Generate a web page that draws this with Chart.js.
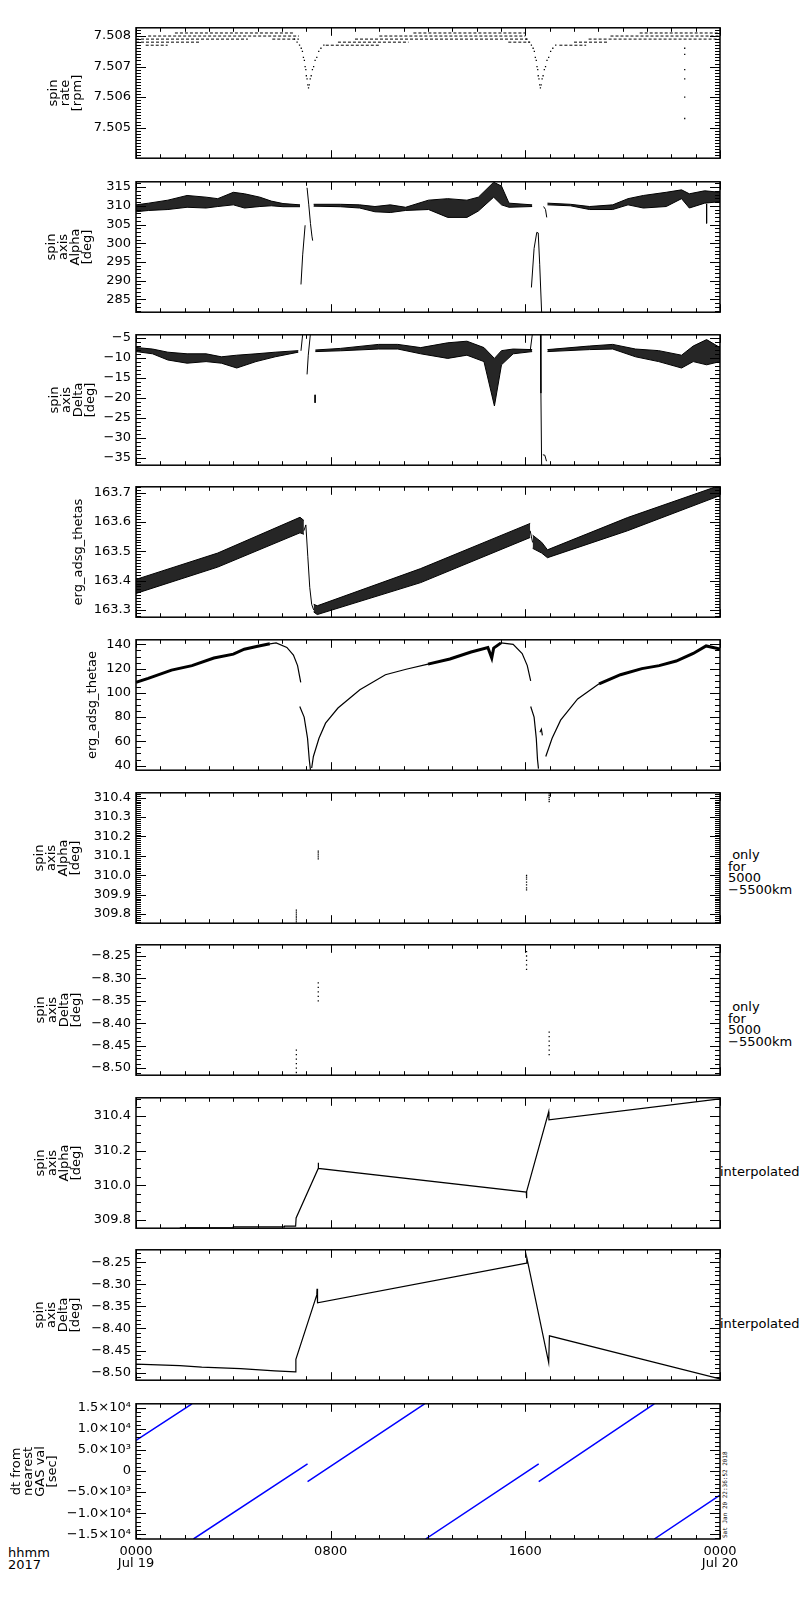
<!DOCTYPE html>
<html>
<head>
<meta charset="utf-8">
<script src="https://cdn.jsdelivr.net/npm/chart.js@4.4.1/dist/chart.umd.min.js"></script>
<style>
  body { margin: 0; background: #fff; }
  #page { position: relative; width: 800px; height: 1600px; background: #fff; overflow: hidden; }
  canvas { position: absolute; left: 0; }
  .note { position: absolute; font: 13px "DejaVu Sans", sans-serif; color: #000; white-space: pre; }
  .stamp { position: absolute; font: 6px "DejaVu Sans Mono", monospace; line-height: 6px; color: #000;
           white-space: pre; transform-origin: 0 0; transform: rotate(-90deg); }
</style>
</head>
<body>
<div id="page">
  <div class="note" style="left:728px;top:849px;line-height:11.5px"> only
for
5000
−5500km</div>
  <div class="note" style="left:728px;top:1001px;line-height:11.5px"> only
for
5000
−5500km</div>
  <div class="note" style="left:720px;top:1166px;line-height:12px">interpolated</div>
  <div class="note" style="left:720px;top:1318px;line-height:12px">interpolated</div>
  <div class="note" style="left:8px;top:1547px;line-height:12px">hhmm
2017</div>
  <div class="stamp" style="left:722px;top:1538px">Sat Jan 20 22:36:52 2018</div>
</div>
<script>
// time axis, hours from 0000 Jul 19
const xTickHours = [0, 8, 16, 24];
const xTickTop = ['0000', '0800', '1600', '0000'];
const xTickBottom = ['Jul 19', '', '', 'Jul 20'];

// panel 1: spin rate
const p1Ticks = [7.505, 7.506, 7.507, 7.508];
const p1Labels = ['7.505', '7.506', '7.507', '7.508'];
const p1LevelVal = [7.5081, 7.5081, 7.5081, 7.5080, 7.5080, 7.5080, 7.5079, 7.5079, 7.5079, 7.5079, 7.5078, 7.5078, 7.5078, 7.5078, 7.5077, 7.5077, 7.5077];
const p1LevelFrom = [1.6, 11.4, 20.7, 0.5, 10.0, 19.5, 0.0, 5.6, 9.0, 18.6, 0.0, 8.3, 15.3, 18.0, 0.4, 7.8, 17.4];
const p1LevelTo = [6.5, 16.0, 24.0, 6.7, 16.0, 24.0, 4.6, 6.7, 16.1, 24.0, 2.6, 11.2, 16.2, 19.4, 1.3, 10.0, 18.5];
const p1DipHours = [6.51, 6.62, 6.72, 6.79, 6.84, 6.88, 6.92, 6.95, 6.98, 7.00, 7.03, 7.06, 7.09, 7.12, 7.16, 7.20, 7.25, 7.30, 7.36, 7.43, 7.51, 7.60, 7.72,
                    16.04, 16.15, 16.25, 16.32, 16.37, 16.41, 16.45, 16.48, 16.51, 16.53, 16.56, 16.59, 16.62, 16.65, 16.69, 16.73, 16.78, 16.83, 16.89, 16.96, 17.04, 17.13, 17.25,
                    22.55, 22.55, 22.55, 22.55, 22.55, 22.55];
const p1DipVals = [7.5079, 7.5078, 7.5077, 7.5076, 7.5075, 7.5073, 7.5072, 7.5070, 7.5069, 7.5067, 7.5066, 7.5064, 7.5063, 7.5064, 7.5066, 7.5067, 7.5069, 7.5070, 7.5072, 7.5073, 7.5075, 7.5076, 7.5077,
                   7.5079, 7.5078, 7.5077, 7.5076, 7.5075, 7.5073, 7.5072, 7.5070, 7.5069, 7.5067, 7.5066, 7.5064, 7.5063, 7.5064, 7.5066, 7.5067, 7.5069, 7.5070, 7.5072, 7.5073, 7.5075, 7.5076, 7.5077,
                   7.5076, 7.5074, 7.5069, 7.5066, 7.5060, 7.5053];

// panel 2: spin axis alpha
const p2Ticks = [285, 290, 295, 300, 305, 310, 315];
const p2Labels = ['285', '290', '295', '300', '305', '310', '315'];
const p2aHours = [0, 0.52, 1.31, 2.10, 2.88, 3.36, 4.00, 4.46, 5.09, 5.56, 6.04, 6.74];
const p2aHigh = [310.25, 310.7, 311.5, 312.75, 312.3, 311.9, 313.6, 313.2, 312.3, 311.25, 310.6, 310.25];
const p2aLow = [308.4, 308.75, 309.0, 309.6, 309.4, 309.8, 310.25, 309.4, 309.8, 310.0, 309.75, 309.75];
const p2bHours = [7.30, 8.40, 9.19, 9.82, 10.45, 11.08, 12.02, 12.81, 13.60, 14.07, 14.70, 15.02, 15.33, 16.28];
const p2bHigh = [310.4, 310.4, 310.25, 309.8, 310.25, 309.6, 311.5, 311.9, 311.5, 312.3, 316.3, 315.25, 310.7, 310.25];
const p2bLow = [309.9, 309.75, 309.4, 308.4, 308.2, 308.75, 309.0, 306.9, 306.9, 308.6, 312.3, 310.25, 309.6, 309.8];
const p2cHours = [16.91, 17.85, 18.64, 19.59, 20.22, 20.85, 21.79, 22.42, 22.74, 23.37, 24.0];
const p2cHigh = [310.7, 310.4, 309.8, 310.25, 311.9, 312.75, 313.6, 314.25, 313.2, 314.0, 313.6];
const p2cLow = [310.25, 310.0, 309.0, 309.0, 310.25, 309.4, 309.8, 311.9, 309.4, 310.7, 311.1];
const p2SpikeHours = [6.78, 6.85, 6.95, null, 7.03, 7.10, 7.17, 7.23, 7.26, null, 16.25, 16.36, 16.47, 16.53, 16.59, 16.67, null, 16.75, 16.83, 16.88, null, 23.45, 23.45];
const p2SpikeVals = [289.0, 296.9, 304.8, null, 314.8, 310.25, 305.25, 301.9, 300.7, null, 288.2, 298.6, 302.9, 302.75, 294.4, 281.5, null, 309.8, 309.0, 306.9, null, 310.5, 305.3];

// panel 3: spin axis delta
const p3Ticks = [-35, -30, -25, -20, -15, -10, -5];
const p3Labels = ['−35', '−30', '−25', '−20', '−15', '−10', '−5'];
const p3aHours = [0, 0.68, 1.31, 2.10, 2.88, 3.51, 4.14, 4.93, 5.72, 6.67];
const p3aHigh = [-7.37, -7.76, -8.55, -8.95, -8.95, -9.7, -9.3, -8.95, -8.55, -8.16];
const p3aLow = [-8.39, -8.95, -10.5, -11.3, -10.9, -11.3, -12.5, -10.9, -9.7, -8.55];
const p3bHours = [7.37, 8.40, 9.97, 10.76, 11.70, 12.81, 13.60, 14.30, 14.73, 15.02, 15.50, 16.28];
const p3bHigh = [-8.0, -7.6, -6.6, -6.6, -7.4, -6.2, -5.8, -7.4, -10.1, -8.16, -7.76, -7.9];
const p3bLow = [-8.4, -8.2, -7.76, -7.76, -8.95, -10.1, -9.3, -10.9, -22.0, -11.7, -8.95, -8.4];
const p3cHours = [16.91, 18.64, 19.59, 20.53, 21.48, 22.42, 22.90, 23.45, 24.0];
const p3cHigh = [-7.9, -7.0, -6.6, -7.76, -8.16, -9.3, -7.0, -5.4, -7.4];
const p3cLow = [-8.4, -7.9, -7.76, -9.7, -10.9, -12.5, -10.9, -11.7, -10.9];
const p3SpikeHours = [6.78, 6.86, null, 7.17, 7.08, 7.03, null, 7.36, 7.36, null, 16.2, 16.3, null, 16.62, 16.64, 16.67, null, 16.72, 16.8, 16.87];
const p3SpikeVals = [-8.2, -3.5, null, -3.8, -9.3, -14.1, null, -19.2, -21.2, null, -8.2, -3.5, null, -3.5, -18.8, -37.5, null, -34.2, -34.3, -35.8];

// panel 4: erg_adsg_thetas
const p4Ticks = [163.3, 163.4, 163.5, 163.6, 163.7];
const p4Labels = ['163.3', '163.4', '163.5', '163.6', '163.7'];
const p4aHours = [0, 3.36, 6.74, 6.90];
const p4aHigh = [163.404, 163.494, 163.616, 163.605];
const p4aLow = [163.356, 163.446, 163.563, 163.558];
const p4bHours = [7.30, 7.45, 11.7, 16.20];
const p4bHigh = [163.319, 163.314, 163.441, 163.595];
const p4bLow = [163.293, 163.284, 163.393, 163.547];
const p4cHours = [16.30, 16.67, 16.91, 20.2, 24.0];
const p4cHigh = [163.555, 163.531, 163.505, 163.615, 163.725];
const p4cLow = [163.51, 163.494, 163.478, 163.57, 163.69];
const p4DropHours = [6.90, 6.98, 7.06, 7.14, 7.22, 7.30, null, 16.20, 16.26, 16.30];
const p4DropVals = [163.57, 163.59, 163.483, 163.377, 163.319, 163.30, null, 163.57, 163.545, 163.53];

// panel 5: erg_adsg_thetae
const p5Ticks = [40, 60, 80, 100, 120, 140];
const p5Labels = ['40', '60', '80', '100', '120', '140'];
const p5NoisyHours = [0, 0.5, 1.46, 2.3, 3.2, 4.0, 4.45, 5.0, 5.5, null, 12.0, 12.9, 13.77, 14.46, 14.62, 14.7, 15.0, null, 19.03, 19.91, 20.79, 21.5, 22.2, 22.9, 23.43, 24.0];
const p5NoisyVals = [108.75, 112, 118.75, 122.5, 128.75, 132, 136, 138.5, 140.5, null, 123.75, 128, 133.75, 137.5, 128.75, 137, 141.25, null, 107.5, 115, 120, 122.5, 126.25, 132.5, 138.75, 136.25];
const p5SmoothHours = [5.5, 5.76, 6.2, 6.47, 6.64, 6.77, null, 6.73, 6.91, 7.05, 7.12, 7.17, null, 7.22, 7.29, 7.52, 7.79, 8.3, 9.2, 10.25, 11.1, 12.0, null,
                       15.0, 15.5, 15.87, 16.08, 16.22, null, 16.22, 16.36, 16.45, 16.5, 16.54, null, 16.6, 16.66, 16.7, null, 16.84, 17.1, 17.45, 18.15, 19.03];
const p5SmoothVals = [140.5, 141.2, 137.5, 131.25, 122.5, 108.75, null, 88.75, 80, 62.5, 45, 36.25, null, 38, 47.5, 62.5, 75, 87.5, 102.5, 115, 119.5, 123.75, null,
                      141.25, 140, 132.5, 122.5, 110, null, 88.75, 80, 62.5, 45, 37.5, null, 67.5, 70, 65, null, 47.5, 62.5, 77.5, 95, 107.5];

// panel 6: alpha, only for 5000-5500km
const p6Ticks = [309.8, 309.9, 310.0, 310.1, 310.2, 310.3, 310.4];
const p6Labels = ['309.8', '309.9', '310.0', '310.1', '310.2', '310.3', '310.4'];
const p6Hours = [6.59, 6.59, 6.59, 6.59, 6.59, 6.59, 6.59, 7.49, 7.49, 7.49, 7.49, 7.49,
                 16.05, 16.05, 16.05, 16.05, 16.05, 16.05, 16.05, 16.98, 16.98, 16.98, 16.98, 16.98];
const p6Vals = [309.82, 309.81, 309.80, 309.79, 309.78, 309.77, 309.76, 310.125, 310.115, 310.105, 310.095, 310.085,
                310.0, 309.99, 309.98, 309.965, 309.95, 309.935, 309.925, 310.42, 310.41, 310.40, 310.39, 310.38];

// panel 7: delta, only for 5000-5500km
const p7Ticks = [-8.50, -8.45, -8.40, -8.35, -8.30, -8.25];
const p7Labels = ['−8.50', '−8.45', '−8.40', '−8.35', '−8.30', '−8.25'];
const p7Hours = [6.59, 6.59, 6.59, 6.59, 6.59, 6.59, 7.49, 7.49, 7.49, 7.49, 7.49,
                 16.05, 16.05, 16.05, 16.05, 16.05, 16.98, 16.98, 16.98, 16.98, 16.98, 16.98];
const p7Vals = [-8.46, -8.47, -8.48, -8.49, -8.50, -8.51, -8.31, -8.32, -8.33, -8.34, -8.35,
                -8.24, -8.25, -8.26, -8.27, -8.28, -8.42, -8.43, -8.44, -8.45, -8.46, -8.47];

// panel 8: alpha, interpolated
const p8Ticks = [309.8, 310.0, 310.2, 310.4];
const p8Labels = ['309.8', '310.0', '310.2', '310.4'];
const p8Hours = [1.8, 4.0, 4.0, 6.1, 6.1, 6.56, 6.58, 7.49, 7.49, 7.50, 16.04, 16.05, 16.06, 16.96, 16.97, 24.0];
const p8Vals = [309.7536, 309.7536, 309.759, 309.759, 309.7625, 309.7625, 309.81, 310.097, 310.13, 310.097, 309.96, 309.925, 309.965, 310.425, 310.378, 310.50];

// panel 9: delta, interpolated
const p9Ticks = [-8.50, -8.45, -8.40, -8.35, -8.30, -8.25];
const p9Labels = ['−8.50', '−8.45', '−8.40', '−8.35', '−8.30', '−8.25'];
const p9Hours = [0, 1.8, 2.7, 4.3, 5.7, 6.56, 6.57, 7.43, 7.44, 7.46, 16.05, 16.06, 16.96, 16.99, 24.0];
const p9Vals = [-8.4806, -8.484, -8.4875, -8.491, -8.4958, -8.498, -8.47, -8.324, -8.31, -8.342, -8.252, -8.2396, -8.477, -8.4167, -8.514];

// panel 10: dt from nearest GAS val
const p10Ticks = [-15000, -10000, -5000, 0, 5000, 10000, 15000];
const p10Labels = ['−1.5×10⁴', '−1.0×10⁴', '−5.0×10³', '0', '5.0×10³', '1.0×10⁴', '1.5×10⁴'];
const p10Hours = [0, 2.30, null, 2.36, 7.05, null, 7.05, 11.86, null, 11.90, 16.55, null, 16.55, 21.30, null, 21.30, 24.0];
const p10Secs = [7300, 15990, null, -16150, 1700, null, -2500, 15990, null, -16150, 1700, null, -2500, 15990, null, -16150, -5700];

const panelTops = [23, 177, 330, 482, 635, 788, 940, 1093, 1245, 1399];
const PANEL_H = 140;
const PAD = 8;
const X_LABEL_H = 48;

Chart.defaults.font.family = "'DejaVu Sans', sans-serif";
Chart.defaults.font.size = 13;
Chart.defaults.color = '#000';

const pts = (xs, ys) => xs.map((x, i) => ({ x: x, y: ys[i] }));

function lineSet(xs, ys, extra) {
  return Object.assign({ data: pts(xs, ys), borderColor: '#000', borderWidth: 1, pointRadius: 0, fill: false, tension: 0 }, extra || {});
}
function dotSet(xs, ys) {
  return { data: pts(xs, ys), showLine: false, pointRadius: 0.9, pointStyle: 'rect',
           pointBackgroundColor: '#000', pointBorderWidth: 0, borderColor: '#000' };
}
function bandSets(xs, hi, lo) {
  return [
    lineSet(xs, hi, { borderWidth: 1 }),
    lineSet(xs, lo, { borderWidth: 1, fill: '-1', backgroundColor: 'rgba(0,0,0,0.85)' })
  ];
}

// box with inward ticks on all four sides
const boxTicks = {
  id: 'boxTicks',
  afterDatasetsDraw(chart, args, opts) {
    const { ctx, chartArea: a } = chart;
    const xs = chart.scales.x, ys = chart.scales.y;
    const snap = p => Math.round(p) + 0.5;
    ctx.save();
    ctx.strokeStyle = '#000';
    ctx.lineWidth = 1;
    ctx.beginPath();
    const tickY = (v, len) => {
      const p = snap(ys.getPixelForValue(v));
      ctx.moveTo(a.left, p); ctx.lineTo(a.left + len, p);
      ctx.moveTo(a.right, p); ctx.lineTo(a.right - len, p);
    };
    const tickX = (v, len) => {
      const p = snap(xs.getPixelForValue(v));
      ctx.moveTo(p, a.bottom); ctx.lineTo(p, a.bottom - len);
      ctx.moveTo(p, a.top); ctx.lineTo(p, a.top + len);
    };
    const k0 = Math.ceil(ys.min / opts.yMinor - 1e-6), k1 = Math.floor(ys.max / opts.yMinor + 1e-6);
    for (let k = k0; k <= k1; k++) tickY(k * opts.yMinor, 5);
    opts.yTicks.forEach(v => tickY(v, 10));
    for (let h = 0; h <= 24; h++) tickX(h, 4);
    xTickHours.forEach(h => tickX(h, 8));
    ctx.stroke();
    ctx.lineWidth = 1.5;
    ctx.strokeRect(a.left, a.top, a.right - a.left, a.bottom - a.top);
    ctx.restore();
  }
};

const panels = [
  { min: 7.504, max: 7.50827, ticks: p1Ticks, labels: p1Labels, minor: 0.0001, title: ['spin', 'rate', '[rpm]'], titlePad: 48,
    datasets: p1LevelVal.map((v, i) => lineSet([p1LevelFrom[i], p1LevelTo[i]], [v, v], { borderDash: [3, 2] }))
      .concat([dotSet(p1DipHours, p1DipVals)]) },
  { min: 281.6, max: 316.4, ticks: p2Ticks, labels: p2Labels, minor: 1, title: ['spin', 'axis', 'Alpha', '[deg]'], titlePad: 46,
    datasets: [].concat(bandSets(p2aHours, p2aHigh, p2aLow), bandSets(p2bHours, p2bHigh, p2bLow), bandSets(p2cHours, p2cHigh, p2cLow),
      [lineSet(p2SpikeHours, p2SpikeVals)]) },
  { min: -36.8, max: -4.2, ticks: p3Ticks, labels: p3Labels, minor: 1, title: ['spin', 'axis', 'Delta', '[deg]'], titlePad: 49,
    datasets: [].concat(bandSets(p3aHours, p3aHigh, p3aLow), bandSets(p3bHours, p3bHigh, p3bLow), bandSets(p3cHours, p3cHigh, p3cLow),
      [lineSet(p3SpikeHours, p3SpikeVals)]) },
  { min: 163.275, max: 163.72, ticks: p4Ticks, labels: p4Labels, minor: 0.01, title: ['erg_adsg_thetas'], titlePad: 73,
    datasets: [].concat(bandSets(p4aHours, p4aHigh, p4aLow), bandSets(p4bHours, p4bHigh, p4bLow), bandSets(p4cHours, p4cHigh, p4cLow),
      [lineSet(p4DropHours, p4DropVals)]) },
  { min: 36.2, max: 143.8, ticks: p5Ticks, labels: p5Labels, minor: 5, title: ['erg_adsg_thetae'], titlePad: 87,
    datasets: [lineSet(p5NoisyHours, p5NoisyVals, { borderWidth: 3 }), lineSet(p5SmoothHours, p5SmoothVals, { borderWidth: 1.2 })] },
  { min: 309.753, max: 310.425, ticks: p6Ticks, labels: p6Labels, minor: 0.01, title: ['spin', 'axis', 'Alpha', '[deg]'], titlePad: 34,
    datasets: [dotSet(p6Hours, p6Vals)] },
  { min: -8.516, max: -8.225, ticks: p7Ticks, labels: p7Labels, minor: 0.01, title: ['spin', 'axis', 'Delta', '[deg]'], titlePad: 35,
    datasets: [dotSet(p7Hours, p7Vals)] },
  { min: 309.751, max: 310.506, ticks: p8Ticks, labels: p8Labels, minor: 0.05, title: ['spin', 'axis', 'Alpha', '[deg]'], titlePad: 35,
    datasets: [lineSet(p8Hours, p8Vals, { borderWidth: 1.2 })] },
  { min: -8.517, max: -8.222, ticks: p9Ticks, labels: p9Labels, minor: 0.01, title: ['spin', 'axis', 'Delta', '[deg]'], titlePad: 34,
    datasets: [lineSet(p9Hours, p9Vals, { borderWidth: 1.2 })] },
  { min: -16150, max: 15990, ticks: p10Ticks, labels: p10Labels, minor: 1000, title: ['dt from', 'nearest', 'GAS val', '[sec]'], titlePad: 11,
    datasets: [lineSet(p10Hours, p10Secs, { borderColor: '#0000ff', borderWidth: 1.5 })] }
];

const page = document.getElementById('page');

panels.forEach((p, idx) => {
  const last = idx === panels.length - 1;
  const cv = document.createElement('canvas');
  const h = PANEL_H + PAD + (last ? X_LABEL_H : PAD);
  cv.width = 800;
  cv.height = h;
  cv.style.top = (panelTops[idx] - PAD) + 'px';
  cv.style.width = '800px';
  cv.style.height = h + 'px';
  page.appendChild(cv);

  new Chart(cv, {
    type: 'line',
    data: { datasets: p.datasets },
    options: {
      responsive: false,
      animation: false,
      events: [],
      layout: { padding: { top: PAD, bottom: last ? 0 : PAD, left: 0, right: 80 } },
      plugins: {
        legend: { display: false },
        tooltip: { enabled: false },
        boxTicks: { yTicks: p.ticks, yMinor: p.minor }
      },
      scales: {
        x: {
          type: 'linear', min: 0, max: 24, display: last,
          grid: { display: false, drawTicks: false },
          border: { display: false },
          afterBuildTicks: s => { s.ticks = xTickHours.map(v => ({ value: v })); },
          afterFit: s => { s.height = last ? X_LABEL_H : 0; },
          ticks: { autoSkip: false, maxRotation: 0, padding: 7, font: { size: 13, lineHeight: '12px' },
                   callback: (v, i) => [xTickTop[i], xTickBottom[i]] }
        },
        y: {
          type: 'linear', min: p.min, max: p.max,
          grid: { display: false, drawTicks: false },
          border: { display: false },
          afterBuildTicks: s => { s.ticks = p.ticks.map(v => ({ value: v })); },
          afterFit: s => { s.width = 136; },
          ticks: { autoSkip: false, padding: 5, callback: (v, i) => p.labels[i] },
          title: { display: true, text: p.title, font: { size: 13, lineHeight: '12px' },
                   padding: { top: p.titlePad, bottom: 0 } }
        }
      }
    },
    plugins: [boxTicks]
  });
});
</script>
</body>
</html>
